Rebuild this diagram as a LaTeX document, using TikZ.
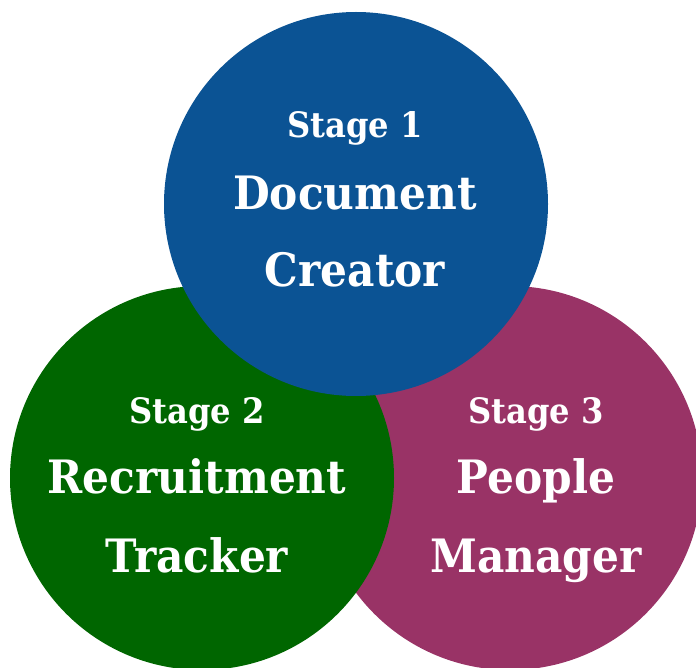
\documentclass[tikz,border=0pt]{standalone}
\usepackage{fontspec}
\setmainfont{DejaVu Serif}[FakeStretch=0.92]
\usepackage{tikz}

\definecolor{stageblue}{HTML}{0B5394}
\definecolor{stagegreen}{HTML}{006600}
\definecolor{stagepurple}{HTML}{993366}

\begin{document}
\begin{tikzpicture}[x=1pt,y=-1pt,
  stagecircle/.style={circle,minimum size=384pt,inner sep=0pt},
  small/.style={anchor=base,text=white,font=\bfseries\fontsize{35}{35}\selectfont},
  big/.style={anchor=base,text=white,font=\bfseries\fontsize{46}{46}\selectfont}]
\useasboundingbox (0,0) rectangle (696,668);
\clip (0,0) rectangle (696,668);
% circles

\node[stagecircle,fill=stagepurple] (P) at (510,478) {};
\node[stagecircle,fill=stagegreen] (G) at (202,478) {};
\node[stagecircle,fill=stageblue] (B) at (356,204) {};

% labels
\node[small] (B1) at (355,138) {Stage 1};
\node[big] (B2) at (355,210) {Document};
\node[big] (B3) at (355,287) {Creator};

\node[small] (G1) at (197,423) {Stage 2};
\node[big] (G2) at (197,493) {Recruitment};
\node[big] (G3) at (197,572) {Tracker};

\node[small] (P1) at (536,423) {Stage 3};
\node[big] (P2) at (536,493) {People};
\node[big] (P3) at (536,572) {Manager};
\end{tikzpicture}
\end{document}
